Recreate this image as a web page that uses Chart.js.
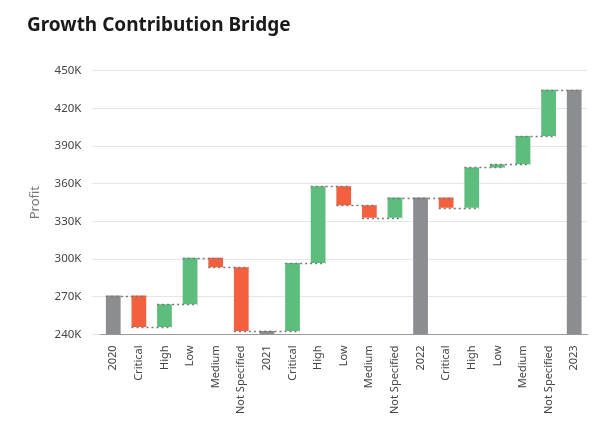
<!DOCTYPE html>
<html>
<head>
<meta charset="utf-8">
<script src="https://cdn.jsdelivr.net/npm/chart.js@4"></script>
<style>
  html, body { margin: 0; padding: 0; background: #fff; }
  #wrap { width: 615px; height: 433px; position: relative; }
</style>
</head>
<body>
<div id="wrap"><canvas id="bridgeChart" width="615" height="433"></canvas></div>
<script>
// year totals and the per-priority changes leading into each year
var years = ['2020', '2021', '2022', '2023'];
var yearTotals = [271000, 242700, 349000, 435000];
var priorities = ['Critical', 'High', 'Low', 'Medium', 'Not Specified'];
var change2021 = [-25000, 18000, 37000, -7500, -50800];
var change2022 = [54300, 61000, -15000, -10000, 16000];
var change2023 = [-8000, 32000, 2500, 22500, 37000];
var yTicks = [240000, 270000, 300000, 330000, 360000, 390000, 420000, 450000];

var colTotal = '#8b8d91', colUp = '#5dbd7c', colDown = '#f2603f';

// build floating bars [from, to] for the bridge
var labels = [], bars = [], colors = [], levels = [];
var changes = [change2021, change2022, change2023];
labels.push(years[0]); bars.push([yTicks[0], yearTotals[0]]); colors.push(colTotal); levels.push(yearTotals[0]);
var running = yearTotals[0];
changes.forEach(function (list, g) {
  list.forEach(function (d, i) {
    labels.push(priorities[i]);
    bars.push([running, running + d]);
    colors.push(d >= 0 ? colUp : colDown);
    running += d;
    levels.push(running);
  });
  labels.push(years[g + 1]);
  bars.push([yTicks[0], yearTotals[g + 1]]);
  colors.push(colTotal);
  levels.push(yearTotals[g + 1]);
});

// dotted connectors between the end of one bar and the start of the next
var connectors = {
  id: 'connectors',
  afterDatasetsDraw: function (chart) {
    var ctx = chart.ctx, y = chart.scales.y;
    var meta = chart.getDatasetMeta(0);
    ctx.save();
    ctx.strokeStyle = '#77787a';
    ctx.lineWidth = 1.3;
    ctx.setLineDash([2, 3]);
    for (var i = 0; i < meta.data.length - 1; i++) {
      var a = meta.data[i], b = meta.data[i + 1];
      var py = Math.round(y.getPixelForValue(levels[i])) + 0.5;
      ctx.beginPath();
      ctx.moveTo(a.x - a.width / 2, py);
      ctx.lineTo(b.x + b.width / 2, py);
      ctx.stroke();
    }
    ctx.restore();
  }
};

Chart.defaults.font.family = '"Noto Sans", "Open Sans", sans-serif';

new Chart(document.getElementById('bridgeChart').getContext('2d'), {
  type: 'bar',
  data: {
    labels: labels,
    datasets: [{
      label: 'Profit',
      data: bars,
      backgroundColor: colors,
      borderWidth: 0,
      categoryPercentage: 0.8,
      barPercentage: 0.72
    }]
  },
  options: {
    responsive: false,
    animation: false,
    layout: { padding: { left: 27, right: 28, top: 14, bottom: 16 } },
    plugins: {
      legend: { display: false },
      tooltip: { enabled: false },
      title: {
        display: true,
        text: 'Growth Contribution Bridge',
        align: 'start',
        color: '#1a1a1a',
        font: { size: 19, weight: 'bold' },
        padding: { top: 0, bottom: 34 }
      }
    },
    scales: {
      x: {
        grid: { display: false },
        border: { color: '#9a9a9a' },
        ticks: {
          color: '#444',
          font: { size: 11 },
          maxRotation: 90,
          minRotation: 90,
          autoSkip: false
        }
      },
      y: {
        min: yTicks[0],
        max: yTicks[yTicks.length - 1],
        afterBuildTicks: function (axis) {
          axis.ticks = yTicks.map(function (v) { return { value: v }; });
        },
        grid: { color: '#e6e6e6' },
        border: { display: false },
        ticks: {
          color: '#444',
          font: { size: 11.5 },
          padding: 11,
          callback: function (v) { return (v / 1000) + 'K'; }
        },
        title: {
          display: true,
          text: 'Profit',
          color: '#777',
          font: { size: 13 },
          padding: { top: 0, bottom: 1 }
        }
      }
    }
  },
  plugins: [connectors]
});
</script>
</body>
</html>
